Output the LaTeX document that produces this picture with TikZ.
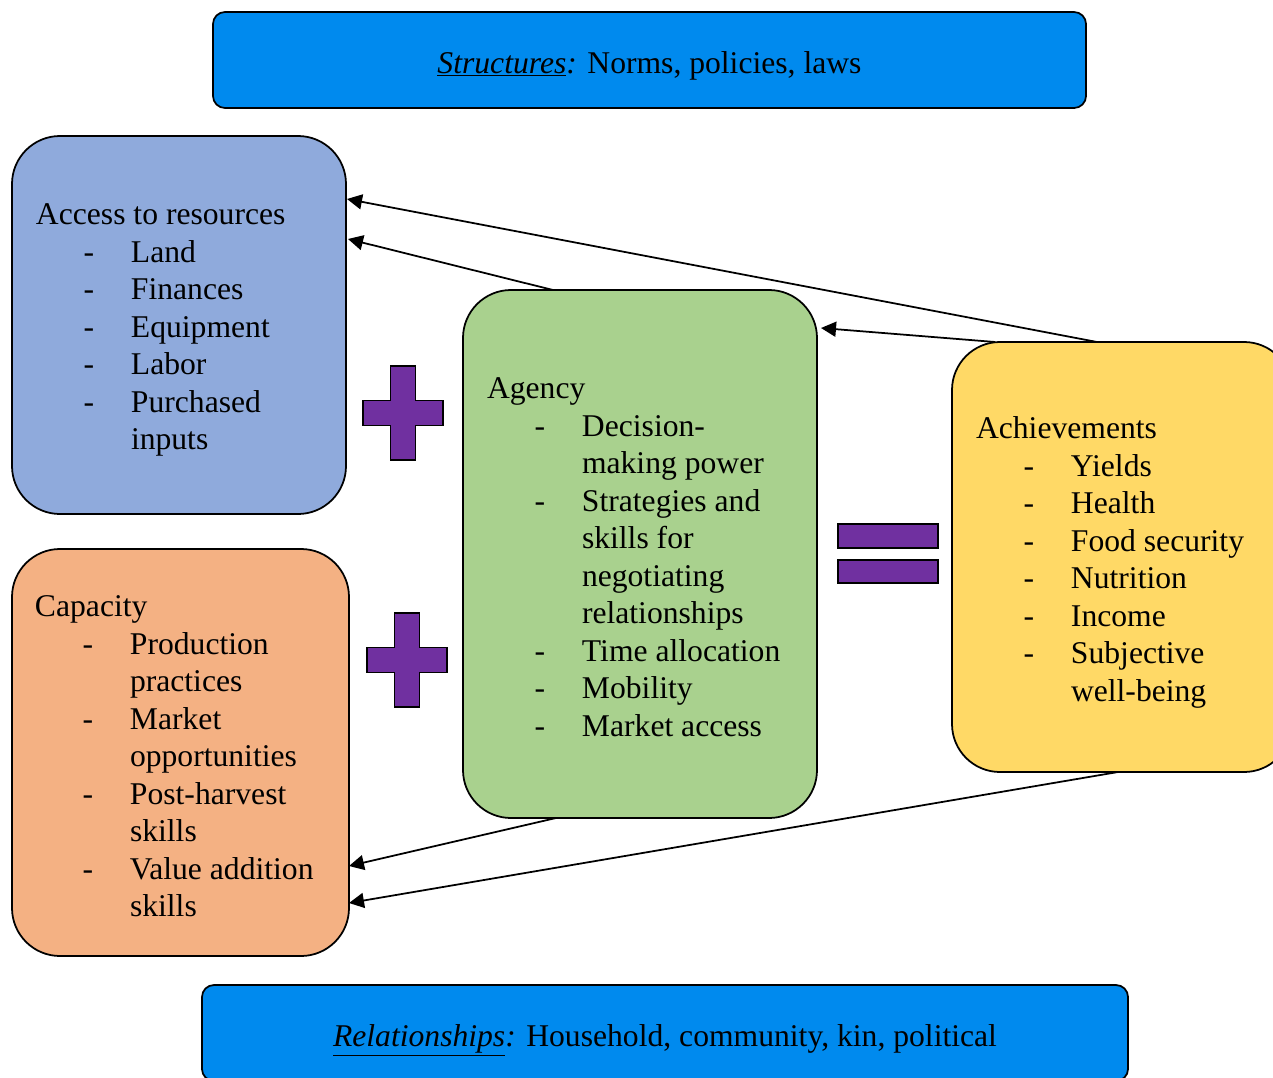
\documentclass[tikz,border=0pt]{standalone}
\usepackage{fontspec}
\setmainfont{Liberation Serif}
\usetikzlibrary{arrows.meta,calc}
\definecolor{topblue}{RGB}{0,138,238}
\definecolor{accblue}{HTML}{8FAADC}
\definecolor{capor}{HTML}{F4B183}
\definecolor{agreen}{HTML}{A9D18E}
\definecolor{achgold}{HTML}{FFD966}
\definecolor{plum}{HTML}{7030A0}
\newcommand\bodyfont{\fontsize{18}{21.34}\selectfont}
\newcommand\itm{\makebox[19mm][l]{\hspace*{9.5mm}-}}
\newcommand\cnt{\hspace*{19mm}}
\tikzset{
  box/.style={draw=black, line width=1pt, rounded corners=9.6mm, inner sep=0pt, outer sep=0pt},
  bar/.style={draw=black, line width=1pt, rounded corners=2.4mm, fill=topblue, inner sep=0pt, outer sep=0pt},
  txt/.style={anchor=north west, inner sep=0pt, outer sep=0pt, align=left, font=\bodyfont},
  ctxt/.style={anchor=base, inner sep=0pt, outer sep=0pt, font=\bodyfont},
  arr/.style={-{Triangle[length=3mm,width=3mm]}, line width=1pt},
  sym/.style={draw=black, line width=1pt, fill=plum},
  plussign/.pic={\path[sym] (-12.5,-47) -- (12.5,-47) -- (12.5,-12.5) -- (40,-12.5) -- (40,12.5) -- (12.5,12.5) -- (12.5,47) -- (-12.5,47) -- (-12.5,12.5) -- (-40,12.5) -- (-40,-12.5) -- (-12.5,-12.5) -- cycle;}
}
\begin{document}
\begin{tikzpicture}[x=0.2mm,y=-0.2mm]
\useasboundingbox (0,0) rectangle (1273,1078);
\clip (0,0) rectangle (1273,1078);

% top and bottom bars
\node[bar, minimum width=174.6mm, minimum height=19.2mm] (struct) at (649.5,60) {};
\node[ctxt] (structtxt) at (649.5,73) {\underline{\textit{Structures}}\textit{:} Norms, policies, laws};
\node[bar, minimum width=185.2mm, minimum height=19.2mm] (relat) at (665,1033) {};
\node[ctxt] (relattxt) at (665,1046) {\underline{\textit{Relationships}}\textit{:} Household, community, kin, political};

% main boxes
\node[box, fill=accblue, minimum width=66.8mm, minimum height=75.6mm] (access) at (179,325) {};
\node[box, fill=capor, minimum width=67.4mm, minimum height=81.4mm] (capac) at (180.5,752.5) {};
\node[box, fill=agreen, minimum width=70.8mm, minimum height=105.6mm] (agency) at (640,554) {};
\node[box, fill=achgold, minimum width=68mm, minimum height=86mm] (achiev) at (1122,557) {};

% texts
\node[txt] (accesstxt) at (36,198.5) {\strut Access to resources\\
\itm Land\\
\itm Finances\\
\itm Equipment\\
\itm Labor\\
\itm Purchased\\
\cnt inputs};

\node[txt] (capactxt) at (35,590.5) {\strut Capacity\\
\itm Production\\
\cnt practices\\
\itm Market\\
\cnt opportunities\\
\itm Post-harvest\\
\cnt skills\\
\itm Value addition\\
\cnt skills};

\node[txt] (agencytxt) at (487,372.3) {\strut Agency\\
\itm Decision-\\
\cnt making power\\
\itm Strategies and\\
\cnt skills for\\
\cnt negotiating\\
\cnt relationships\\
\itm Time allocation\\
\itm Mobility\\
\itm Market access};

\node[txt] (achievtxt) at (976,412.3) {\strut Achievements\\
\itm Yields\\
\itm Health\\
\itm Food security\\
\itm Nutrition\\
\itm Income\\
\itm Subjective\\
\cnt well-being};

% plus and equals symbols
\pic at (403,413) {plussign};
\pic at (407,660) {plussign};
\path[sym] (838,524) rectangle (938,548);
\path[sym] (838,560) rectangle (938,583);

% arrows
\draw[arr] ($(achiev.north west)+(145,0)$) -- ($(access.north east)+(1,63)$);
\draw[arr] ($(agency.north west)+(90,0)$) -- ($(access.north east)+(2,103)$);
\draw[arr] ($(achiev.north west)+(43,0)$) -- ($(agency.north east)+(4,38)$);
\draw[arr] ($(agency.south west)+(93,0)$) -- ($(capac.north east)+(0,317)$);
\draw[arr] ($(achiev.south west)+(166,0)$) -- ($(capac.north east)+(0,354)$);
\end{tikzpicture}
\end{document}
